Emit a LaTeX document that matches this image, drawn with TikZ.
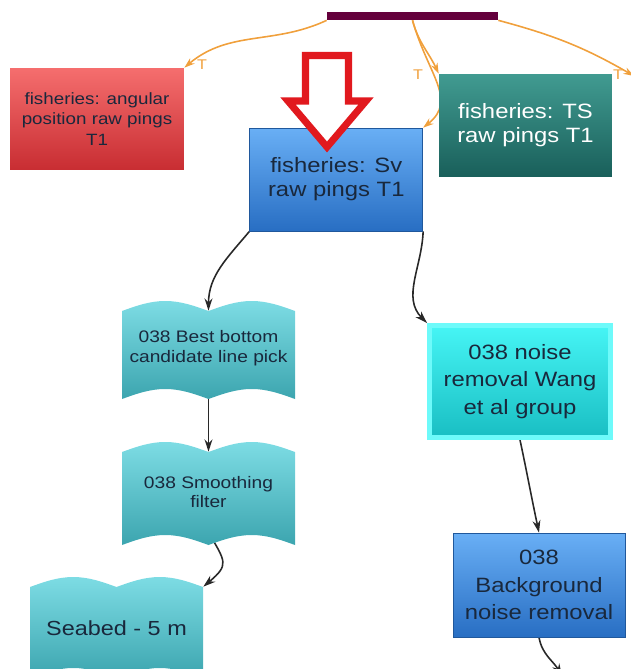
\documentclass[tikz,border=0pt]{standalone}
\usepackage{fontspec}
\setmainfont{Liberation Sans}[FakeStretch=1.15]
\usetikzlibrary{arrows.meta,backgrounds}

\definecolor{redtop}{RGB}{245,110,110}
\definecolor{redbot}{RGB}{200,45,50}
\definecolor{tstop}{RGB}{65,155,145}
\definecolor{tsbot}{RGB}{25,95,90}
\definecolor{svtop}{RGB}{105,175,245}
\definecolor{svbot}{RGB}{40,110,195}
\definecolor{wavetop}{RGB}{125,220,228}
\definecolor{wavebot}{RGB}{60,165,175}
\definecolor{noisetop}{RGB}{70,245,245}
\definecolor{noisebot}{RGB}{25,190,195}
\definecolor{noiseedge}{RGB}{110,250,250}
\definecolor{barcol}{RGB}{100,0,60}
\definecolor{orangeline}{RGB}{240,160,60}
\definecolor{textdark}{RGB}{25,40,60}
\definecolor{linegray}{RGB}{40,40,40}
\definecolor{pointer}{RGB}{225,25,30}

% punched tape outline: centre x, top y, bottom y
\newcommand{\wavefill}[3]{%
  \shade[wave fill] (#1-86.5,#2) sin (#1-43.25,#2-10) cos (#1,#2) sin (#1+43.25,#2-10) cos (#1+86.5,#2)
    -- (#1+86.5,#3) sin (#1+43.25,#3-10) cos (#1,#3) sin (#1-43.25,#3-10) cos (#1-86.5,#3) -- cycle;}

\begin{document}
\begin{tikzpicture}[
    x=0.02cm, y=-0.02cm,
    box/.style={rectangle, minimum width=3.46cm, minimum height=2.06cm, align=center, inner sep=2pt, text=textdark, font=\fontsize{11.8}{13.8}\selectfont},
    redbox/.style={box, top color=redtop, bottom color=redbot, minimum width=3.48cm, minimum height=2.04cm, font=\fontsize{9.3}{11.6}\selectfont},
    tsbox/.style={box, top color=tstop, bottom color=tsbot, text=white},
    svbox/.style={box, top color=svtop, bottom color=svbot, draw=svbot!80!black, line width=0.4pt},
    noisebox/.style={box, top color=noisetop, bottom color=noisebot, draw=noiseedge, line width=2.8pt, minimum width=3.62cm, minimum height=2.24cm, font=\fontsize{11.8}{15.5}\selectfont},
    bgbox/.style={box, top color=svtop, bottom color=svbot, draw=svbot!80!black, line width=0.4pt, minimum width=3.44cm, minimum height=2.08cm, font=\fontsize{11.8}{15.5}\selectfont},
    wave/.style={rectangle, minimum width=3.46cm, align=center, inner sep=0pt, text=textdark, font=\fontsize{9.5}{11.3}\selectfont},
    wave fill/.style={top color=wavetop, bottom color=wavebot},
    arrow/.style={-{Stealth[length=7pt,width=4.5pt]}, line width=0.9pt, draw=linegray},
    tarrow/.style={-{Stealth[length=6pt,width=4pt]}, line width=0.9pt, draw=orangeline, color=orangeline},
    tlabel/.style={text=orangeline, font=\fontsize{8}{8}\selectfont, inner sep=0pt}
]
\useasboundingbox (0,0) rectangle (631,669);
\clip (0,0) rectangle (631,669);

% source bar
\node[fill=barcol, minimum width=3.42cm, minimum height=0.16cm, inner sep=0pt] (source) at (412.5,16) {};

% raw pings
\node[redbox] (angular) at (97,119) {fisheries: angular\\position raw pings\\T1};
\node[tsbox] (ts) at (525.5,125.5) {fisheries: TS\\raw pings T1};
\node[svbox] (sv) at (336.3,179.5) {fisheries: Sv\\raw pings T1};

% pointer
\draw[pointer, fill=white, line width=4pt, line join=miter]
    (305.5,55.5) -- (348.5,55.5) -- (348.5,101) -- (366,101) -- (327,147) -- (288,101) -- (305.5,101) -- cycle;

% bottom line branch
\node[wave] (best) at (208.5,348) [minimum height=1.48cm] {038 Best bottom\\candidate line pick};
\node[wave] (smooth) at (208.5,492) [minimum height=1.6cm] {038 Smoothing\\filter};
\node[wave, font=\fontsize{11.6}{14}\selectfont] (seabed) at (116.5,628) [minimum height=1.64cm] {Seabed - 5 m};

% noise branch
\node[noisebox] (noise) at (520,381.5) {038 noise\\removal Wang\\et al group};
\node[bgbox] (background) at (539,585) {038\\Background\\noise removal};

\coordinate (offright) at (634,76);
\coordinate (offbottom) at (562,676);

% T labels
\node[tlabel] (tleft) at (202,65) {T};
\node[tlabel] (tmid) at (418,75) {T};
\node[tlabel] (tright) at (618,75) {T};

\begin{scope}[on background layer]
% Arrows
\draw[tarrow] (source.south west) to[out=205, in=40] (angular.north east);
\draw[tarrow] (source.south) to[out=-75, in=115] (ts.north west);
\draw[tarrow] (source.south) .. controls (428,75) and (458,100) .. (sv.north east);
\draw[tarrow] (source.south east) to[out=-15, in=150] (offright);
\draw[arrow] (sv.south west) to[out=-130, in=90] (best.north);
\draw[arrow] (best.south) -- (smooth.north);
\draw[arrow] (smooth.south) to[out=-60, in=40, looseness=1.6] (seabed.north east);
\draw[arrow] (sv.south east) to[out=-92, in=135] (noise.north west);
\draw[arrow] (noise.south) to[out=-78, in=102] (background.north);
\draw[arrow] (background.south) to[out=-80, in=120] (offbottom);
% tape shapes
\foreach \cx/\t/\b in {208.5/311/399, 208.5/452/545, 116.5/587/678}
    {\wavefill{\cx}{\t}{\b}}
\end{scope}

\end{tikzpicture}
\end{document}
